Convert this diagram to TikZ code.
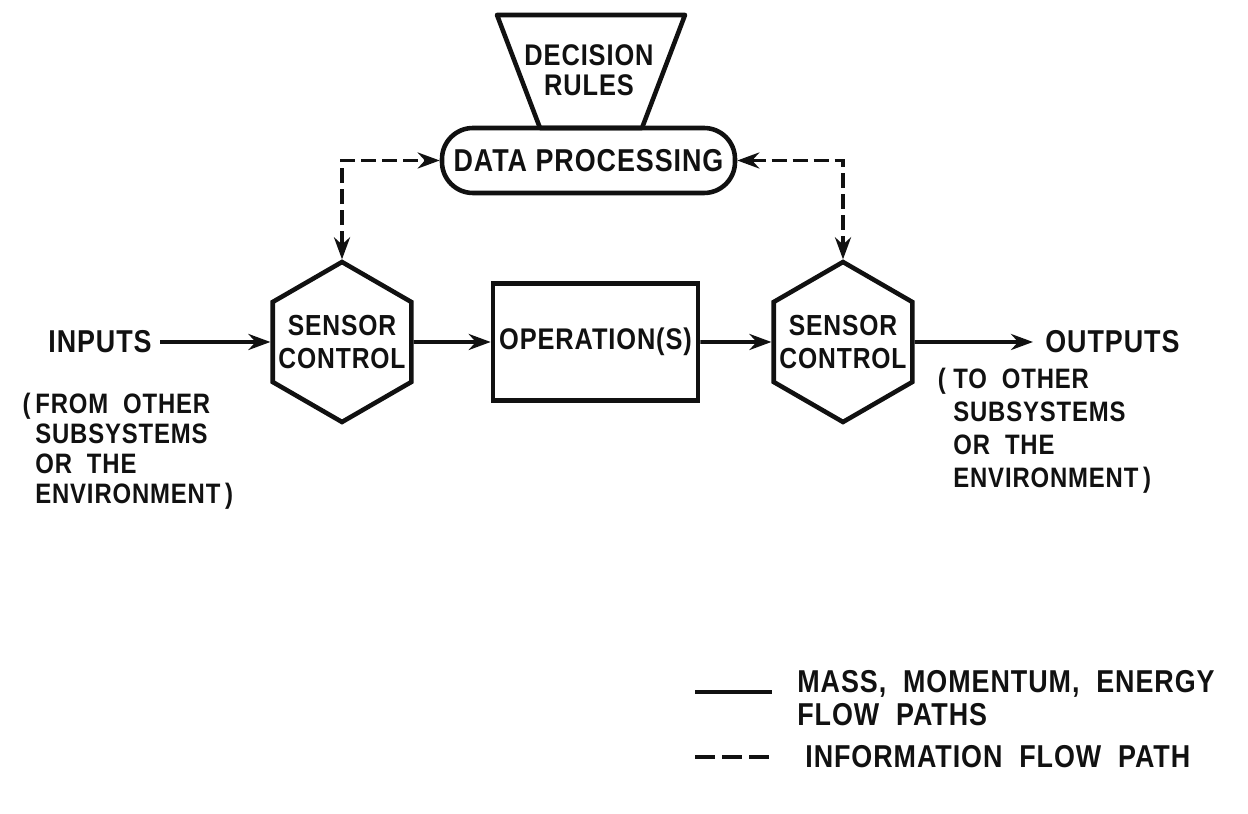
\documentclass[tikz,border=0pt]{standalone}
\usepackage{fontspec}
\setmainfont{Liberation Sans}[FakeStretch=0.85,LetterSpace=3]
\usetikzlibrary{arrows.meta}
\usetikzlibrary{shapes.geometric}
\definecolor{ink}{HTML}{111111}
\tikzset{
	boxtxt/.style={font=\bfseries\fontsize{17}{17}\selectfont, text=ink, align=center},
	sidetxt/.style={font=\bfseries\fontsize{16}{17}\selectfont, text=ink, align=left, inner sep=0pt},
	boxline/.style={draw=ink, line width=2.6pt},
	hexa/.style={regular polygon, regular polygon sides=6, shape border rotate=30, boxline, minimum size=3.2cm, inner sep=-0.6cm, boxtxt, font=\bfseries\fontsize{16.5}{18.8}\selectfont},
	flow/.style={draw=ink, line width=2.2pt, -{Stealth[length=4.4mm,width=3.2mm]}},
	info/.style={draw=ink, line width=2.2pt, dash pattern=on 3mm off 1.2mm, {Stealth[length=4.4mm,width=3.2mm]}-{Stealth[length=4.4mm,width=3.2mm]}},
}

\begin{document}
\begin{tikzpicture}
			\useasboundingbox (0,0) rectangle (24.96,16.28);

			\node[rectangle, boxline, rounded corners=0.62cm, minimum width=5.86cm, minimum height=1.3cm, inner sep=0pt, boxtxt, font=\bfseries\fontsize{18}{18}\selectfont] (proc) at (11.77,13.07) {DATA PROCESSING};
			\node[boxtxt] (rules) at (11.78,14.88) {DECISION\\RULES};
			\draw[boxline, line join=round] (9.94,15.98) -- (13.70,15.98) -- (12.84,13.72) -- (10.80,13.72) -- cycle;

			\node[hexa] (sensL) at (6.84,9.44) {SENSOR\\CONTROL};
			\node[rectangle, boxline, minimum width=4.1cm, minimum height=2.34cm, boxtxt] (oper) at (11.91,9.44) {OPERATION(S)};
			\node[hexa] (sensR) at (16.86,9.44) {SENSOR\\CONTROL};

			\node[sidetxt, anchor=west, font=\bfseries\fontsize{18}{18}\selectfont] (inputs) at (0.96,9.44) {INPUTS};
			\node[sidetxt, anchor=west, font=\bfseries\fontsize{18}{18}\selectfont] (outputs) at (20.9,9.44) {OUTPUTS};
			\node[sidetxt, anchor=north west] (fromtxt) at (0.70,8.42) {\llap{(\,}FROM~~OTHER\\SUBSYSTEMS\\OR~~THE\\ENVIRONMENT\,)};
			\node[sidetxt, anchor=north west, font=\bfseries\fontsize{16}{18.7}\selectfont] (totxt) at (19.06,8.92) {\llap{(~}TO~~OTHER\\SUBSYSTEMS\\OR~~THE\\ENVIRONMENT\,)};

			\draw[flow, shorten <=0.16cm] (inputs.east) -- (sensL.west);
			\draw[flow] (sensL.east) -- (oper.west);
			\draw[flow] (oper.east) -- (sensR.west);
			\draw[flow, shorten >=0.24cm] (sensR.east) -- (outputs.west);

			\draw[info] (sensL.north) |- (proc.west);
			\draw[info] (proc.east) -| (sensR.north);

			\node[sidetxt, anchor=north west, font=\bfseries\fontsize{18}{18.7}\selectfont] (masstxt) at (15.94,2.88) {MASS,~~MOMENTUM,~~ENERGY\\FLOW~~PATHS};
			\node[sidetxt, anchor=west, font=\bfseries\fontsize{18}{18}\selectfont] (infotxt) at (16.1,1.14) {INFORMATION~~FLOW~~PATH};
			\draw[draw=ink, line width=2.2pt] (13.9,2.44) -- (15.44,2.44);
			\draw[draw=ink, line width=2.2pt, dash pattern=on 4mm off 1.4mm] (13.9,1.14) -- (15.44,1.14);
		\end{tikzpicture}
\end{document}
